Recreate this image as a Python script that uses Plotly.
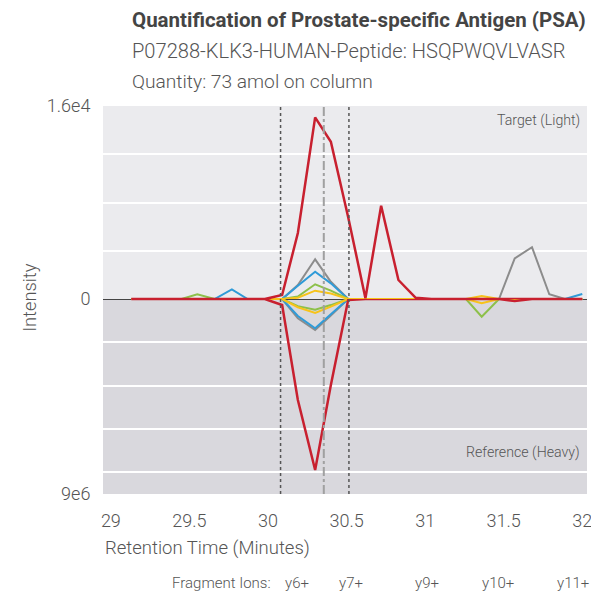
'''
Mirror plot of light (target) and heavy (reference) fragment ion traces for PSA.
'''

import plotly.graph_objects as go
from plotly.subplots import make_subplots


# retention times (minutes) shared by every fragment trace
RT = [29.13, 29.23, 29.34, 29.45, 29.55, 29.66, 29.77, 29.87, 29.98, 30.09,
      30.19, 30.30, 30.40, 30.51, 30.62, 30.72, 30.83, 30.94, 31.04, 31.15,
      31.26, 31.36, 31.47, 31.57, 31.68, 31.79, 31.89, 32.00]

IONS = ['y6+', 'y7+', 'y9+', 'y10+', 'y11+']

# target (light) intensities
LIGHT_Y6 = [0, 0, 0, 0, 0, 0, 800, 0, 0, 0, 1100, 2260, 1300, 0,
            0, 0, 0, 0, 0, 0, 0, 0, 0, 0, 0, 0, 0, 410]
LIGHT_Y7 = [0, 0, 0, 0, 0, 0, 0, 0, 0, 0, 100, 690, 450, 0,
            0, 0, 0, 0, 0, 0, 0, 250, 0, 0, 0, 0, 0, 0]
LIGHT_Y9 = [0, 0, 0, 0, 390, 0, 0, 0, 0, 0, 200, 1220, 700, 0,
            0, 0, 0, 0, 0, 0, 0, 0, 0, 0, 0, 0, 0, 0]
LIGHT_Y10 = [0, 0, 0, 0, 0, 0, 0, 0, 0, 0, 1160, 3290, 1430, 0,
             0, 0, 0, 0, 0, 0, 0, 0, 0, 3370, 4290, 390, 0, 0]
LIGHT_Y11 = [0, 0, 0, 0, 0, 0, 0, 0, 0, 330, 5470, 15060, 13040, 6800,
             60, 7730, 1575, 100, 0, 0, 0, 0, 0, 0, 0, 0, 0, 0]

# reference (heavy) intensities
HEAVY_Y6 = [0, 0, 0, 0, 0, 0, 0, 0, 0, 0, 785000, 1350000, 700000, 0,
            0, 0, 0, 0, 0, 0, 0, 0, 0, 0, 0, 0, 0, 0]
HEAVY_Y7 = [0, 0, 0, 0, 0, 0, 0, 0, 0, 0, 380000, 640000, 350000, 0,
            0, 0, 0, 0, 0, 0, 0, 200000, 0, 0, 0, 0, 0, 0]
HEAVY_Y9 = [0, 0, 0, 0, 0, 0, 0, 0, 0, 0, 330000, 500000, 280000, 0,
            0, 0, 0, 0, 0, 0, 0, 817000, 0, 0, 0, 0, 0, 0]
HEAVY_Y10 = [0, 0, 0, 0, 0, 0, 0, 0, 0, 0, 890000, 1430000, 760000, 0,
             0, 0, 0, 0, 0, 0, 0, 0, 0, 0, 0, 0, 0, 0]
HEAVY_Y11 = [0, 0, 0, 0, 0, 0, 0, 0, 0, 277000, 4660000, 7890000, 3970000, 50000,
             0, 0, 0, 0, 0, 0, 0, 0, 0, 92000, 0, 0, 0, 0]

LIGHT_MAX = 16000
HEAVY_MAX = 9000000
LIGHT_GRID = [4000, 8000, 12000, 16000]
HEAVY_GRID = [0, 2000000, 4000000, 6000000, 8000000, 9000000]

PEAK_START = 30.08
PEAK_END = 30.515
PEAK_APEX = 30.355

FONT = 'Roboto'
GREY = '#555555'
LIGHTFONT = dict(family=FONT, color=GREY, weight=300)

# drawing order: grey first, red last (on top)
series = [
    ('y10+', LIGHT_Y10, HEAVY_Y10, '#8c8c8c', 2),
    ('y6+', LIGHT_Y6, HEAVY_Y6, '#2f9bd8', 2),
    ('y9+', LIGHT_Y9, HEAVY_Y9, '#8dc04a', 2),
    ('y7+', LIGHT_Y7, HEAVY_Y7, '#f7c31a', 2),
    ('y11+', LIGHT_Y11, HEAVY_Y11, '#c8202f', 2.5),
]

fig = make_subplots(rows=2, cols=1, shared_xaxes=True, vertical_spacing=0,
                    row_heights=[193, 195])

for name, light, heavy, color, width in series:
    fig.add_trace(go.Scatter(
        x = RT, y = light, mode = 'lines', name = name,
        line = dict(color=color, width=width), showlegend = False
    ), row=1, col=1)
    fig.add_trace(go.Scatter(
        x = RT, y = heavy, mode = 'lines', name = name,
        line = dict(color=color, width=width), showlegend = False
    ), row=2, col=1)

# half backgrounds
fig.add_shape(type='rect', xref='x domain', yref='y domain', x0=0, x1=1, y0=0, y1=1,
              fillcolor='#ebebee', line_width=0, layer='below')
fig.add_shape(type='rect', xref='x2 domain', yref='y2 domain', x0=0, x1=1, y0=0, y1=1,
              fillcolor='#d9d8dd', line_width=0, layer='below')

# peak boundaries and apex
for xv in (PEAK_START, PEAK_END):
    fig.add_shape(type='line', xref='x2', yref='paper', x0=xv, x1=xv, y0=0, y1=1,
                  line=dict(color='#555555', width=1.5, dash='dot'))
fig.add_shape(type='line', xref='x2', yref='paper', x0=PEAK_APEX, x1=PEAK_APEX, y0=0, y1=1,
              line=dict(color='#a0a0a0', width=2, dash='dashdot'))

fig.update_xaxes(range=[28.95, 32.03], showgrid=False, zeroline=False, showline=False,
                 automargin=False)
fig.update_xaxes(
    tickvals = [29, 29.5, 30, 30.5, 31, 31.5, 32],
    ticktext = ['29', '29.5', '30', '30.5', '31', '31.5', '32'],
    ticks = 'outside', ticklen = 10, tickcolor = 'rgba(0,0,0,0)',
    ticklabeloverflow = 'allow',
    tickfont = dict(size=18, **LIGHTFONT),
    row=2, col=1
)
fig.update_yaxes(automargin=False)
fig.update_yaxes(
    range = [0, LIGHT_MAX], tickvals = LIGHT_GRID, ticktext = ['', '', '', '1.6e4'],
    showgrid = True, gridcolor = 'white', gridwidth = 1.5,
    zeroline = True, zerolinecolor = '#444444', zerolinewidth = 1,
    ticks = 'outside', ticklen = 8, tickcolor = 'rgba(0,0,0,0)',
    tickfont = dict(size=18, **LIGHTFONT),
    row=1, col=1
)
fig.update_yaxes(
    range = [HEAVY_MAX, 0], tickvals = HEAVY_GRID, ticktext = ['0', '', '', '', '', '9e6'],
    showgrid = True, gridcolor = 'white', gridwidth = 1.5,
    zeroline = False,
    ticks = 'outside', ticklen = 8, tickcolor = 'rgba(0,0,0,0)',
    tickfont = dict(size=18, **LIGHTFONT),
    row=2, col=1
)

annotations = [
    dict(text='<b>Quantification of Prostate-specific Antigen (PSA)</b>', x=0.056, y=1.222,
         font=dict(family=FONT, size=20.5, color='#444444')),
    dict(text='P07288-KLK3-HUMAN-Peptide: HSQPWQVLVASR', x=0.056, y=1.142,
         font=dict(size=20.1, **LIGHTFONT)),
    dict(text='Quantity: 73 amol on column', x=0.056, y=1.062,
         font=dict(size=19.2, **LIGHTFONT)),
    dict(text='Retention Time (Minutes)', x=0.0, y=-0.139, font=dict(size=18.5, **LIGHTFONT)),
    dict(text='Fragment Ions:', x=0.351, y=-0.229, xanchor='right',
         font=dict(size=15, **LIGHTFONT)),
]
for label, xpos in zip(IONS, [0.372, 0.483, 0.640, 0.779, 0.934]):
    annotations.append(dict(text=label, x=xpos, y=-0.229, font=dict(size=15, **LIGHTFONT)))
for ann in annotations:
    ann.setdefault('xanchor', 'left')
    fig.add_annotation(xref='paper', yref='paper', yanchor='middle', showarrow=False, **ann)

fig.add_annotation(text='Target (Light)', xref='paper', yref='paper', x=0.99, y=0.962,
                   xanchor='right', yanchor='middle', showarrow=False,
                   font=dict(size=14.2, **LIGHTFONT))
fig.add_annotation(text='Reference (Heavy)', xref='paper', yref='paper', x=0.99, y=0.106,
                   xanchor='right', yanchor='middle', showarrow=False,
                   font=dict(size=14.2, **LIGHTFONT))
fig.add_annotation(text='Intensity', xref='paper', yref='paper', x=-0.151, y=0.508,
                   xanchor='center', yanchor='middle', textangle=-90, showarrow=False,
                   font=dict(size=18.3, **LIGHTFONT))

fig.update_layout(
    width = 591,
    height = 597,
    margin = dict(l=103, r=4, t=106, b=103),
    paper_bgcolor = 'white',
    plot_bgcolor = 'white',
    font = dict(family=FONT, color=GREY),
    showlegend = False
)

fig.write_html('out.html', config={'displayModeBar': False},
               post_script="document.body.style.margin='0px';")
